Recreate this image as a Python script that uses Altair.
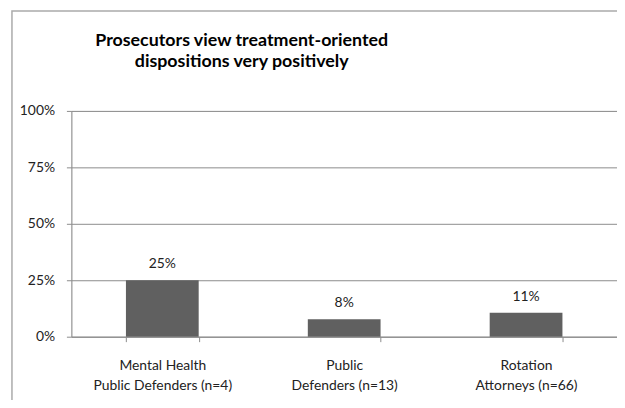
import altair as alt
import pandas as pd

categories = ["Mental Health\nPublic Defenders (n=4)", "Public\nDefenders (n=13)", "Rotation\nAttorneys (n=66)"]
values = [0.25, 0.077, 0.106]
title_lines = ["Prosecutors view treatment-oriented", "dispositions very positively"]
y_ticks = [0, 0.25, 0.5, 0.75, 1.0]

df = pd.DataFrame({"group": categories, "share": values})

FONT = "Lato"

x_enc = alt.X(
    "group:N",
    sort=categories,
    title=None,
    scale=alt.Scale(paddingInner=0.6, paddingOuter=0.3),
    axis=alt.Axis(
        labelAngle=0,
        labelExpr="split(datum.label, '\\n')",
        labelFont=FONT,
        labelFontSize=14,
        labelColor="#222222",
        labelLineHeight=20,
        labelPadding=17,
        labelBaseline="top",
        tickBand="extent",
        tickSize=5,
        tickColor="#8c8c8c",
        domainColor="#8c8c8c",
        grid=False,
    ),
)

y_enc = alt.Y(
    "share:Q",
    title=None,
    scale=alt.Scale(domain=[0, 1]),
    axis=alt.Axis(
        values=y_ticks,
        format=".0%",
        labelFont=FONT,
        labelFontSize=14,
        labelColor="#222222",
        labelPadding=12,
        tickSize=5,
        tickColor="#8c8c8c",
        domainColor="#8c8c8c",
        gridColor="#8c8c8c",
        grid=True,
    ),
)

border = alt.Chart(pd.DataFrame({"k": [0]})).mark_rect(
    filled=False, stroke="#aaaaaa", strokeWidth=1.5
).encode(
    x=alt.value(-60), x2=alt.value(700), y=alt.value(-101), y2=alt.value(400)
)

title = alt.Chart(pd.DataFrame({"k": [0]})).mark_text(
    font=FONT,
    fontSize=18,
    fontWeight="bold",
    color="#000000",
    align="center",
    baseline="alphabetic",
    lineHeight=22,
).encode(
    x=alt.value(172), y=alt.value(-66), text=alt.value(title_lines)
)

bars = alt.Chart(df).mark_bar(color="#606060").encode(x=x_enc, y=y_enc)

labels = alt.Chart(df).mark_text(
    baseline="bottom", dy=-9, font=FONT, fontSize=14, color="#222222"
).encode(
    x=alt.X("group:N", sort=categories),
    y="share:Q",
    text=alt.Text("share:Q", format=".0%"),
)

chart = alt.layer(border, title, bars, labels).properties(
    width=551,
    height=228,
    autosize=alt.AutoSizeParams(type="none"),
    padding={"left": 64, "top": 102, "right": 0, "bottom": 62},
).configure_view(stroke=None).configure(background="white")

chart.save("out.html", embed_options={"renderer": "svg", "actions": False})
